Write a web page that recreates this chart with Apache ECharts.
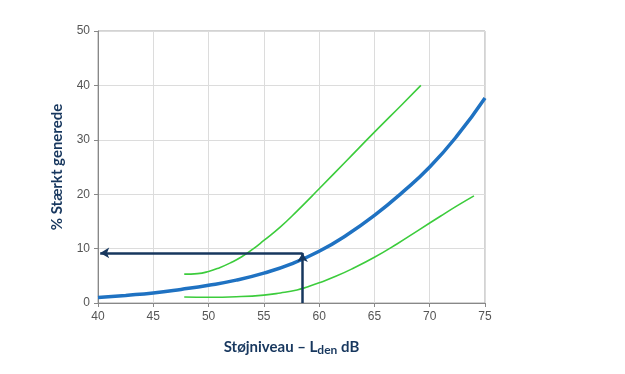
<!DOCTYPE html>
<html><head><meta charset="utf-8">
<script src="https://cdn.jsdelivr.net/npm/echarts@6/dist/echarts.min.js"></script>
<style>html,body{margin:0;padding:0;background:#fff}#c{width:625px;height:374px}</style>
</head><body><div id="c"></div>
<script>
const xTicks = [40, 45, 50, 55, 60, 65, 70, 75];
const yTicks = [0, 10, 20, 30, 40, 50];
const meanX = [40, 42.5, 45, 47.5, 50, 52.5, 55, 57.5, 60, 62.5, 65, 67.5, 70, 72.5, 75];
const meanY = [1.0, 1.4, 1.85, 2.5, 3.25, 4.2, 5.5, 7.2, 9.5, 12.5, 16.1, 20.3, 25.0, 30.8, 37.7];
const upperX = [47.8, 49, 50, 51, 52, 53, 54, 55, 56.5, 58, 60, 62.5, 65, 67.5, 69.2];
const upperY = [5.3, 5.4, 5.8, 6.5, 7.4, 8.5, 9.9, 11.5, 14.0, 16.9, 21.0, 26.2, 31.4, 36.5, 40.0];
const lowerX = [47.8, 50, 52.5, 55, 56.5, 58, 59, 60, 61.5, 63, 65, 67, 69, 71, 72.5, 74];
const lowerY = [1.1, 1.05, 1.15, 1.45, 1.85, 2.4, 3.0, 3.7, 4.9, 6.3, 8.4, 10.8, 13.4, 16.0, 17.9, 19.7];
const readX = 58.5;   // noise level read-off
const readY = 9.2;    // resulting % highly annoyed

const zip = (a, b) => a.map((v, i) => [v, b[i]]);
const navy = '#17375e';
const chart = echarts.init(document.getElementById('c'));
chart.setOption({
  animation: false,
  grid: { left: 98, right: 140, top: 31, bottom: 71, show: true, borderColor: '#a6a6a6', borderWidth: 1 },
  xAxis: {
    type: 'value', min: xTicks[0], max: xTicks[xTicks.length - 1], interval: 5,
    axisLine: { lineStyle: { color: '#888' } },
    axisTick: { show: true, length: 4, lineStyle: { color: '#888' } },
    axisLabel: { color: '#555', fontFamily: 'Liberation Sans', fontSize: 12, margin: 8 },
    splitLine: { lineStyle: { color: '#dcdcdc' } },
    name: 'Støjniveau – L{sub|den} dB',
    nameLocation: 'middle', nameGap: 35,
    nameTextStyle: { color: navy, fontFamily: 'Lato', fontWeight: 'bold', fontSize: 15,
      rich: { sub: { color: navy, fontFamily: 'Lato', fontWeight: 'bold', fontSize: 12, padding: [6, 0, 0, 0] } } }
  },
  yAxis: {
    type: 'value', min: yTicks[0], max: yTicks[yTicks.length - 1], interval: 10,
    axisLine: { show: true, lineStyle: { color: '#888' } },
    axisTick: { show: true, length: 4, lineStyle: { color: '#888' } },
    axisLabel: { color: '#555', fontFamily: 'Liberation Sans', fontSize: 12, margin: 8 },
    splitLine: { lineStyle: { color: '#dcdcdc' } },
    name: '% Stærkt generede', nameLocation: 'middle', nameGap: 33,
    nameTextStyle: { color: navy, fontFamily: 'Lato', fontWeight: 'bold', fontSize: 15 }
  },
  series: [
    { type: 'line', data: zip(upperX, upperY), smooth: 0.5, showSymbol: false,
      lineStyle: { color: '#3ccc3c', width: 1.6 } },
    { type: 'line', data: zip(lowerX, lowerY), smooth: 0.5, showSymbol: false,
      lineStyle: { color: '#3ccc3c', width: 1.6 } },
    { type: 'line', data: zip(meanX, meanY), smooth: 0.5, showSymbol: false,
      lineStyle: { color: '#1f72c2', width: 3.5 },
      markLine: {
        silent: true, symbolSize: [8, 9],
        lineStyle: { color: navy, width: 2.5, type: 'solid' },
        label: { show: false },
        data: [
          [{ coord: [readX, 0], symbol: 'none' }, { coord: [readX, readY], symbol: 'arrow' }],
          [{ coord: [readX, readY], symbol: 'none' }, { coord: [xTicks[0] + 0.2, readY], symbol: 'arrow' }]
        ]
      } }
  ]
});
</script></body></html>
